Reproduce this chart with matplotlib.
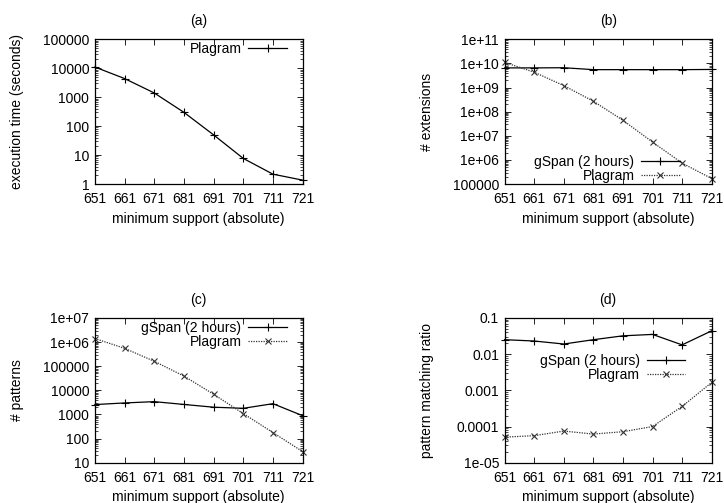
import matplotlib.pyplot as plt
from matplotlib.ticker import LogLocator, NullFormatter, FixedLocator

plt.rcParams["font.family"] = ["Liberation Sans", "DejaVu Sans"]
plt.rcParams["font.size"] = 10

support = [651, 661, 671, 681, 691, 701, 711, 721]

# (a) execution time
time_plagram = [11000, 4400, 1400, 300, 50, 7.7, 2.2, 1.37]

# (b) number of extensions
ext_gspan = [6.5e9, 6.5e9, 6.6e9, 5.5e9, 5.5e9, 5.5e9, 5.5e9, 5.6e9]
ext_plagram = [1.1e10, 4.3e9, 1.2e9, 2.7e8, 4.4e7, 5.5e6, 7.4e5, 1.7e5]

# (c) number of patterns
pat_gspan = [2570, 3000, 3400, 2600, 2000, 1800, 2800, 890]
pat_plagram = [1.4e6, 5.5e5, 1.6e5, 3.9e4, 6900, 1090, 178, 29]

# (d) pattern matching ratio
ratio_gspan = [0.025, 0.023, 0.019, 0.025, 0.032, 0.035, 0.018, 0.044]
ratio_plagram = [5.1e-5, 5.6e-5, 7.5e-5, 6.2e-5, 7.2e-5, 1.0e-4, 3.6e-4, 1.65e-3]

fig = plt.figure(figsize=(7.24, 5.03), dpi=100)

boxes = {
    "a": [0.131, 0.634, 0.287, 0.288],
    "b": [0.697, 0.634, 0.286, 0.288],
    "c": [0.131, 0.080, 0.287, 0.288],
    "d": [0.697, 0.080, 0.286, 0.288],
}


def style(ax, title, ylabel, ylim, yticks, ylabels):
    ax.set_yscale("log")
    ax.set_xlim(651, 721)
    ax.set_ylim(*ylim)
    ax.set_xticks(support)
    ax.set_xticklabels([str(s) for s in support])
    ax.yaxis.set_major_locator(FixedLocator(yticks))
    ax.set_yticklabels(ylabels)
    ax.yaxis.set_minor_locator(LogLocator(base=10, subs=range(2, 10), numticks=20))
    ax.yaxis.set_minor_formatter(NullFormatter())
    ax.tick_params(which="major", direction="in", length=4, width=0.6,
                   top=True, right=True, labelsize=10)
    ax.tick_params(axis="x", which="major", pad=6)
    ax.tick_params(axis="y", which="major", pad=4)
    ax.tick_params(which="minor", direction="in", length=2, width=0.5,
                   top=True, right=True)
    for sp in ax.spines.values():
        sp.set_linewidth(0.9)
    ax.set_title(title, fontsize=10, pad=10)
    ax.set_xlabel("minimum support (absolute)", fontsize=10)
    ax.xaxis.set_label_coords(0.5, -0.19)
    ax.set_ylabel(ylabel, fontsize=10)
    ax.yaxis.set_label_coords(-0.34, 0.5)


def add_lines(ax, gspan, plagram):
    ax.plot(support, gspan, color="black", linewidth=0.9, marker="+",
            markersize=6, markeredgewidth=0.8, label="gSpan (2 hours)",
            clip_on=False)
    ax.plot(support, plagram, color="#333333", linewidth=0.9, linestyle=(0, (1, 1)),
            marker="x", markersize=5, markeredgewidth=0.8, label="Plagram",
            clip_on=False)


def legend(ax, loc, anchor):
    ax.legend(loc=loc, bbox_to_anchor=anchor, frameon=False, markerfirst=False,
              fontsize=10, handlelength=2.75, handletextpad=0.5,
              labelspacing=0.0, borderaxespad=0.0, borderpad=0.0)


# (a)
ax = fig.add_axes(boxes["a"])
ax.plot(support, time_plagram, color="black", linewidth=0.9, marker="+",
        markersize=6, markeredgewidth=0.8, label="Plagram", clip_on=False)
style(ax, "(a)", "execution time (seconds)", (1, 100000),
      [1, 10, 100, 1000, 10000, 100000],
      ["1", "10", "100", "1000", "10000", "100000"])
legend(ax, "upper right", (0.923, 0.98))

# (b)
ax = fig.add_axes(boxes["b"])
add_lines(ax, ext_gspan, ext_plagram)
style(ax, "(b)", "# extensions", (1e5, 1e11),
      [1e5, 1e6, 1e7, 1e8, 1e9, 1e10, 1e11],
      ["100000", "1e+06", "1e+07", "1e+08", "1e+09", "1e+10", "1e+11"])
legend(ax, "lower right", (0.845, 0.01))

# (c)
ax = fig.add_axes(boxes["c"])
add_lines(ax, pat_gspan, pat_plagram)
style(ax, "(c)", "# patterns", (10, 1e7),
      [10, 100, 1000, 10000, 100000, 1e6, 1e7],
      ["10", "100", "1000", "10000", "100000", "1e+06", "1e+07"])
legend(ax, "upper right", (0.923, 0.98))

# (d)
ax = fig.add_axes(boxes["d"])
add_lines(ax, ratio_gspan, ratio_plagram)
style(ax, "(d)", "pattern matching ratio", (1e-5, 0.1),
      [1e-5, 1e-4, 1e-3, 1e-2, 0.1],
      ["1e-05", "0.0001", "0.001", "0.01", "0.1"])
legend(ax, "upper right", (0.87, 0.75))

fig.savefig("out.png", dpi=100)
